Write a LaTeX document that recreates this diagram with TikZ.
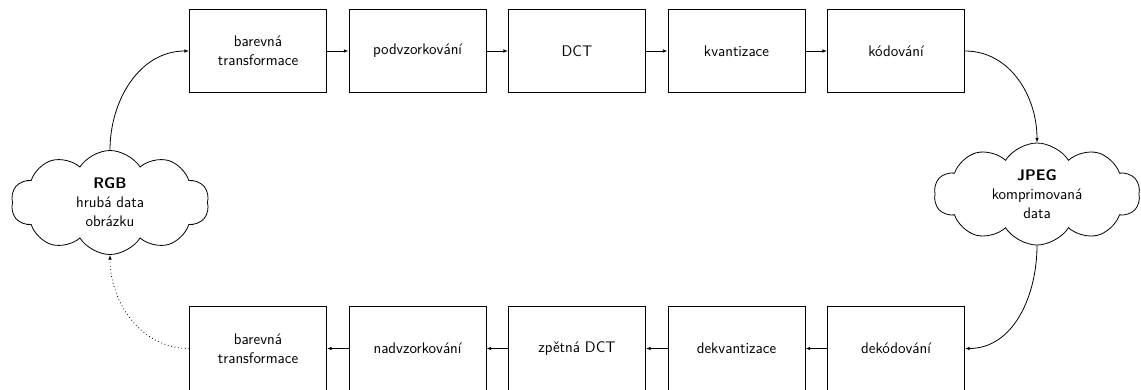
\documentclass[tikz,border=0pt]{standalone}
\usepackage{fontspec}
\usetikzlibrary{shapes.symbols,arrows.meta}
\tikzset{
  txt/.style={font=\sffamily\fontsize{11.5}{14.25}\selectfont, align=center, inner sep=0pt},
  stepbox/.style={txt, draw, line width=0.6pt, minimum width=137*0.75pt, minimum height=83.5*0.75pt},
  datacloud/.style={draw, cloud, cloud puffs=10, cloud puff arc=115, line width=0.6pt, inner sep=0pt},
  flow/.style={line width=0.6pt, -{Latex[length=3.5pt,width=2.6pt]}},
}
\begin{document}
\begin{tikzpicture}[x=0.75pt,y=-0.75pt]
\useasboundingbox (0,0) rectangle (1141,389);
% top row
\node[stepbox] (t1) at (258,51) {barevná\\transformace};
\node[stepbox] (t2) at (417.5,51) {podvzorkování};
\node[stepbox] (t3) at (577,51) {DCT};
\node[stepbox] (t4) at (736.5,51) {kvantizace};
\node[stepbox] (t5) at (896,51) {kódování};
% bottom row
\node[stepbox] (b1) at (258,348.5) {barevná\\transformace};
\node[stepbox] (b2) at (417.5,348.5) {nadvzorkování};
\node[stepbox] (b3) at (577,348.5) {zpětná DCT};
\node[stepbox] (b4) at (736.5,348.5) {dekvantizace};
\node[stepbox] (b5) at (896,348.5) {dekódování};
% clouds
\node[datacloud, minimum width=198*0.75pt, minimum height=104*0.75pt] (rgb) at (110,202.5) {};
\node[txt] (rgbtext) at (rgb.center) {\textbf{RGB}\\hrubá data\\obrázku};
\node[datacloud, minimum width=206*0.75pt, minimum height=102*0.75pt] (jpeg) at (1037,194) {};
\node[txt] (jpegtext) at (jpeg.center) {\textbf{JPEG}\\komprimovaná\\data};
% connectors
\draw[flow] (t1) -- (t2);
\draw[flow] (t2) -- (t3);
\draw[flow] (t3) -- (t4);
\draw[flow] (t4) -- (t5);
\draw[flow] (b5) -- (b4);
\draw[flow] (b4) -- (b3);
\draw[flow] (b3) -- (b2);
\draw[flow] (b2) -- (b1);
\draw[flow] (rgb.north) to[out=90,in=180] (t1.west);
\draw[flow] (t5.east) to[out=0,in=90] (jpeg.north);
\draw[flow] (jpeg.south) to[out=-90,in=0] (b5.east);
\draw[flow, dotted] (b1.west) to[out=180,in=-90] (rgb.south);
\end{tikzpicture}
\end{document}
